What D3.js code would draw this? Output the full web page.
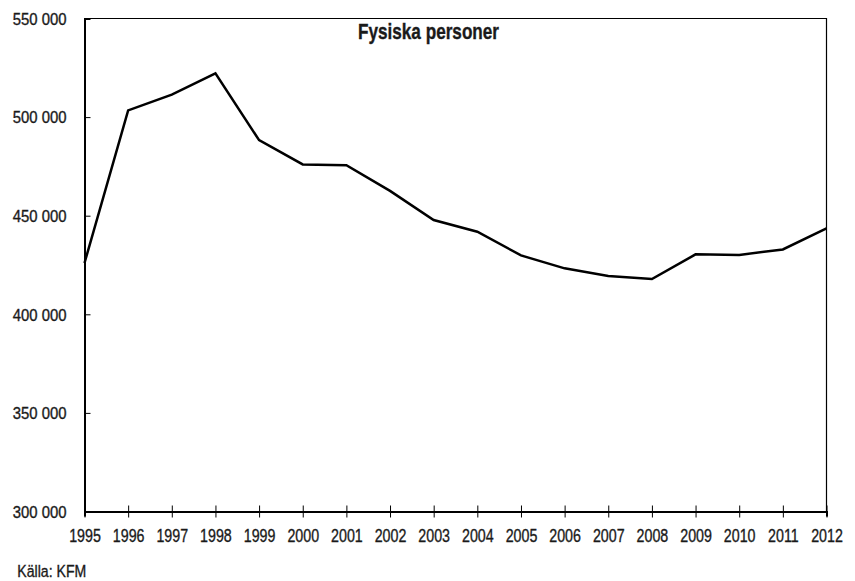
<!DOCTYPE html>
<html><head><meta charset="utf-8">
<script src="https://cdn.jsdelivr.net/npm/d3@7"></script>
<style>
body{margin:0;background:#fff;}
text{font-family:"Liberation Sans",Arial,sans-serif;fill:#1a1a1a;stroke:#1a1a1a;stroke-width:0.35px;}
</style></head>
<body><svg id="c" width="855" height="581"></svg>
<script>
const years = [1995,1996,1997,1998,1999,2000,2001,2002,2003,2004,2005,2006,2007,2008,2009,2010,2011,2012];
const values = [426000,503400,511400,522200,488300,476000,475600,462600,447800,441900,429900,423300,419400,417900,430400,430100,432900,443600];
const yTicks = [300000,350000,400000,450000,500000,550000];
const title = "Fysiska personer";
const source = "Källa: KFM";

const svg = d3.select("#c");
const L=84.5, R=826.5, T=18.5, B=511.5;
const x = d3.scaleLinear().domain([1995,2012]).range([L,R]);
const y = d3.scaleLinear().domain([300000,550000]).range([B,T]);
const fmt = v => d3.format(",")(v).replace(/,/g," ");

// frame top & right
svg.append("path").attr("d",`M${L},${T}H${R}V${B}`).attr("fill","none").attr("stroke","#000").attr("stroke-width",1.2);

// y axis
const ya = svg.append("g").attr("transform",`translate(${L},0)`)
  .call(d3.axisLeft(y).tickValues(yTicks).tickFormat(fmt).tickSize(-6).tickPadding(18));
ya.select(".domain").attr("stroke","#000").attr("stroke-width",2);
ya.selectAll(".tick line").attr("stroke","#000");
ya.selectAll(".tick text").attr("font-size",16).attr("fill","#1a1a1a")
  .attr("x",0).attr("dy","0.36em").attr("transform","translate(-18,0) scale(0.93,1)");
ya.selectAll(".tick").filter(d=>d===300000||d===550000).select("line").remove();

// x axis
const xa = svg.append("g").attr("transform",`translate(0,${B})`)
  .call(d3.axisBottom(x).tickValues(years).tickFormat(d3.format("d")).tickSize(5).tickPadding(8));
xa.select(".domain").attr("stroke","#000").attr("stroke-width",2);
xa.selectAll(".tick line").attr("stroke","#000").attr("y1",-6).attr("y2",6);
xa.selectAll(".tick text").attr("font-size",18.5).attr("fill","#1a1a1a")
  .attr("y",0).attr("dy",0).attr("transform","translate(0,30.2) scale(0.77,1)");

// line
svg.append("path").datum(values.map((v,i)=>[years[i],v]))
  .attr("fill","none").attr("stroke","#000").attr("stroke-width",2.5).attr("stroke-linejoin","miter")
  .attr("d",d3.line().x(d=>x(d[0])).y(d=>y(d[1])));

svg.append("text").attr("transform","translate(428.5,39.3) scale(0.78,1)").attr("text-anchor","middle")
  .attr("font-size",22).attr("font-weight","bold").text(title);
svg.append("text").attr("transform","translate(17.3,577.3) scale(0.83,1)").attr("font-size",17).text(source);
</script></body></html>
